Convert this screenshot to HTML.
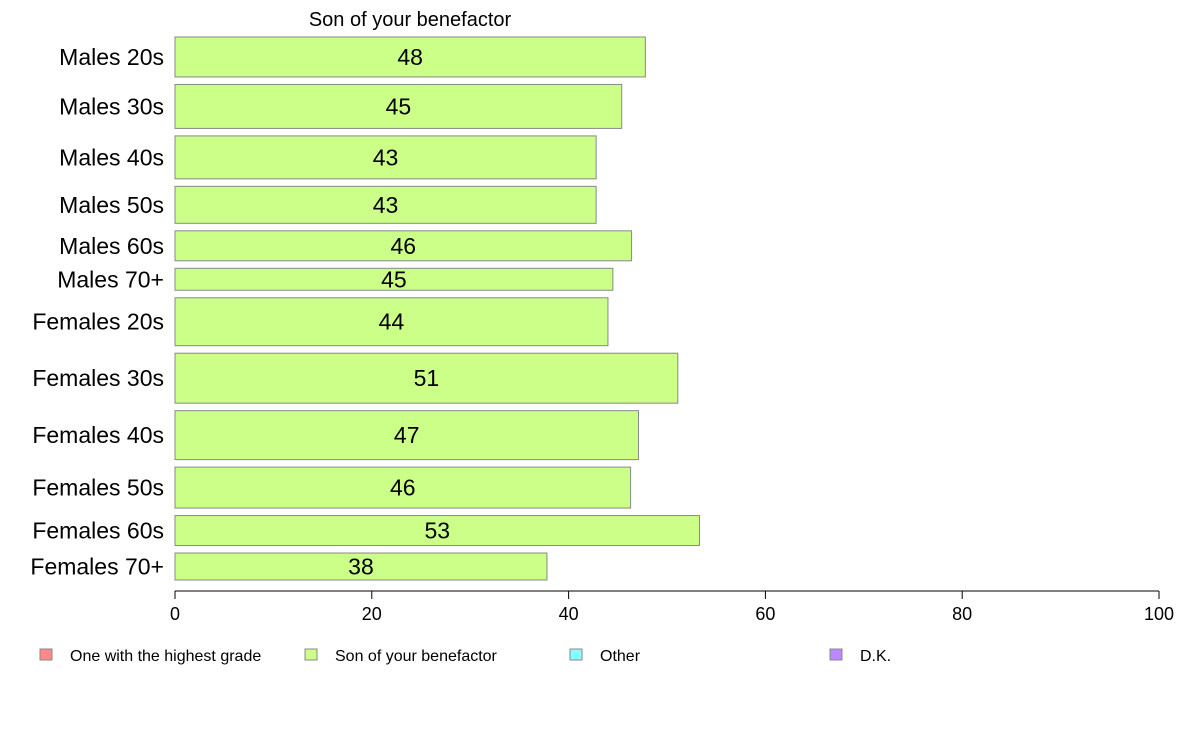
<!DOCTYPE html>
<html><head><meta charset="utf-8"><style>
body{margin:0;background:#fff;}
svg{display:block;font-family:"Liberation Sans",Arial,sans-serif;}
</style></head><body>
<svg id="chart" width="1188" height="736" xmlns="http://www.w3.org/2000/svg">
<text x="410" y="26" font-size="20" text-anchor="middle">Son of your benefactor</text>
<g id="bars"></g>
<g id="xaxis"></g>
<g id="legend"></g>
</svg>
<script>
const categories=["Males 20s","Males 30s","Males 40s","Males 50s","Males 60s","Males 70+","Females 20s","Females 30s","Females 40s","Females 50s","Females 60s","Females 70+"];
const values=[47.8,45.4,42.8,42.8,46.4,44.5,44.0,51.1,47.1,46.3,53.3,37.8];
const sampleWeights=[40,44,43,37,30,22,48,50,49,41,30,27];
const xTicks=[0,20,40,60,80,100];
const legendLabels=["One with the highest grade","Son of your benefactor","Other","D.K."];
const legendColors=["#ff8888","#ccff88","#88ffff","#bb88ff"];

const NS="http://www.w3.org/2000/svg";
const x0=175,x1=1159,yTop=37,yBot=580,gap=7.5;
const xs=v=>x0+(v/100)*(x1-x0);
function el(t,a,p){const e=document.createElementNS(NS,t);for(const k in a)e.setAttribute(k,a[k]);p.appendChild(e);return e;}
const bars=document.getElementById('bars');
const wsum=sampleWeights.reduce((a,b)=>a+b,0);
const avail=(yBot-yTop)-gap*(categories.length-1);
let y=yTop;
categories.forEach((c,i)=>{
  const h=sampleWeights[i]/wsum*avail;
  const r=el('rect',{x:x0,y:y,width:xs(values[i])-x0,height:h,fill:"#ccff88",stroke:"#888","stroke-width":1},bars);
  
  
  const t=el('text',{x:(x0+xs(values[i]))/2,y:y+h/2+8,"font-size":23,"text-anchor":"middle"},bars);
  t.textContent=Math.round(values[i]);
  
  
  const l=el('text',{x:164,y:y+h/2+8,"font-size":23,"text-anchor":"end"},bars);
  l.textContent=c;
  
  
  y+=h+gap;
});
const ax=document.getElementById('xaxis');
el('line',{x1:x0,x2:x1,y1:591,y2:591,stroke:"#000","stroke-width":1},ax);
xTicks.forEach(v=>{
  el('line',{x1:xs(v),x2:xs(v),y1:591,y2:599,stroke:"#000"},ax);
  const t=el('text',{x:xs(v),y:620,"font-size":18,"text-anchor":"middle"},ax);
  t.textContent=v;
  
  
});
const lg=document.getElementById('legend');
const lx=[40,305,570,830];
legendLabels.forEach((s,i)=>{
  const r=el('rect',{x:lx[i],y:649,width:12,height:11,fill:legendColors[i],stroke:"#888"},lg);
  
  
  const t=el('text',{x:lx[i]+30,y:661,"font-size":16},lg);
  t.textContent=s;
  
  
});
</script>
</body></html>
